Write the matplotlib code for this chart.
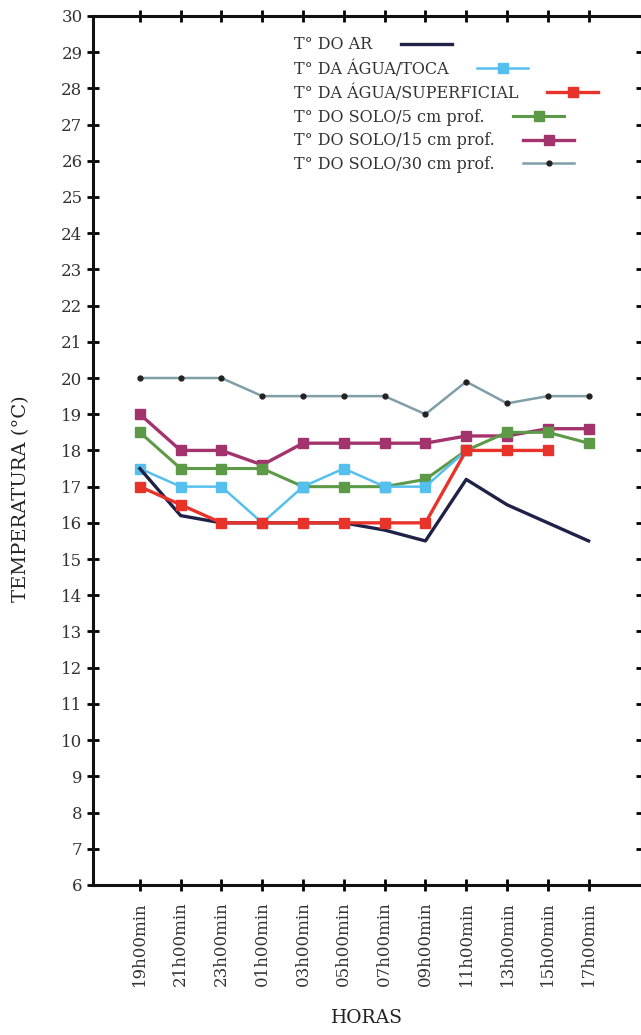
import matplotlib.pyplot as plt
import numpy as np

plt.rcParams['font.family'] = ['DejaVu Serif']

horas = ['19h00min', '21h00min', '23h00min', '01h00min', '03h00min', '05h00min',
         '07h00min', '09h00min', '11h00min', '13h00min', '15h00min', '17h00min']

t_ar = [17.5, 16.2, 16.0, 16.0, 16.0, 16.0, 15.8, 15.5, 17.2, 16.5, 16.0, 15.5]
t_toca = [17.5, 17.0, 17.0, 16.0, 17.0, 17.5, 17.0, 17.0, 18.0, np.nan, np.nan, np.nan]
t_superficial = [17.0, 16.5, 16.0, 16.0, 16.0, 16.0, 16.0, 16.0, 18.0, 18.0, 18.0, np.nan]
t_solo5 = [18.5, 17.5, 17.5, 17.5, 17.0, 17.0, 17.0, 17.2, 18.0, 18.5, 18.5, 18.2]
t_solo15 = [19.0, 18.0, 18.0, 17.6, 18.2, 18.2, 18.2, 18.2, 18.4, 18.4, 18.6, 18.6]
t_solo30 = [20.0, 20.0, 20.0, 19.5, 19.5, 19.5, 19.5, 19.0, 19.9, 19.3, 19.5, 19.5]

fig = plt.figure(figsize=(6.41, 10.35), dpi=100)
ax = fig.add_axes([0.145, 0.145, 0.856, 0.8396])

x = np.arange(len(horas))
ax.plot(x, t_solo30, color='#7f9ea6', lw=1.8, marker='o', ms=3.5,
        mfc='#222222', mec='#222222', label='T° DO SOLO/30 cm prof.')
ax.plot(x, t_solo15, color='#a2336d', lw=2.4, marker='s', ms=7,
        label='T° DO SOLO/15 cm prof.')
ax.plot(x, t_solo5, color='#5c9a48', lw=2.2, marker='s', ms=6.5,
        label='T° DO SOLO/5 cm prof.')
ax.plot(x, t_toca, color='#55c0ee', lw=1.8, marker='s', ms=6.5,
        label='T° DA ÁGUA/TOCA')
ax.plot(x, t_ar, color='#1e2148', lw=2.4, label='T° DO AR')
ax.plot(x, t_superficial, color='#e8332b', lw=2.4, marker='s', ms=7,
        label='T° DA ÁGUA/SUPERFICIAL')

ax.set_xlim(-1.15, 12.3)
ax.set_ylim(6, 30)
ax.set_yticks(range(6, 31))
ax.set_xticks(x)
ax.set_xticklabels(horas, rotation=90, fontsize=12, color='#333333')
ax.tick_params(axis='y', labelsize=12, labelcolor='#333333',
               direction='inout', length=8, width=2)
ax.tick_params(axis='x', direction='inout', length=8, width=2, pad=8)
ax.tick_params(top=True, right=True, which='both')
for s in ax.spines.values():
    s.set_linewidth(2.2)
    s.set_color('#111111')

ax.set_ylabel('TEMPERATURA (°C)', fontsize=14, color='#222222')
ax.yaxis.set_label_coords(-0.115, 0.445)
ax.set_xlabel('HORAS', fontsize=13.5, color='#222222')
ax.xaxis.set_label_coords(0.5, -0.143)

handles, labels = ax.get_legend_handles_labels()
order = ['T° DO AR', 'T° DA ÁGUA/TOCA', 'T° DA ÁGUA/SUPERFICIAL',
         'T° DO SOLO/5 cm prof.', 'T° DO SOLO/15 cm prof.', 'T° DO SOLO/30 cm prof.']
hmap = dict(zip(labels, handles))
leg = ax.legend([hmap[o] for o in order], order, loc='upper left',
                bbox_to_anchor=(0.34, 0.993), frameon=False, markerfirst=False,
                fontsize=11.5, labelspacing=0.42, handlelength=3.2,
                handletextpad=1.8, labelcolor='#333333')
for col in leg._legend_handle_box.get_children():
    col.align = 'left'

fig.savefig('out.png', dpi=100)
